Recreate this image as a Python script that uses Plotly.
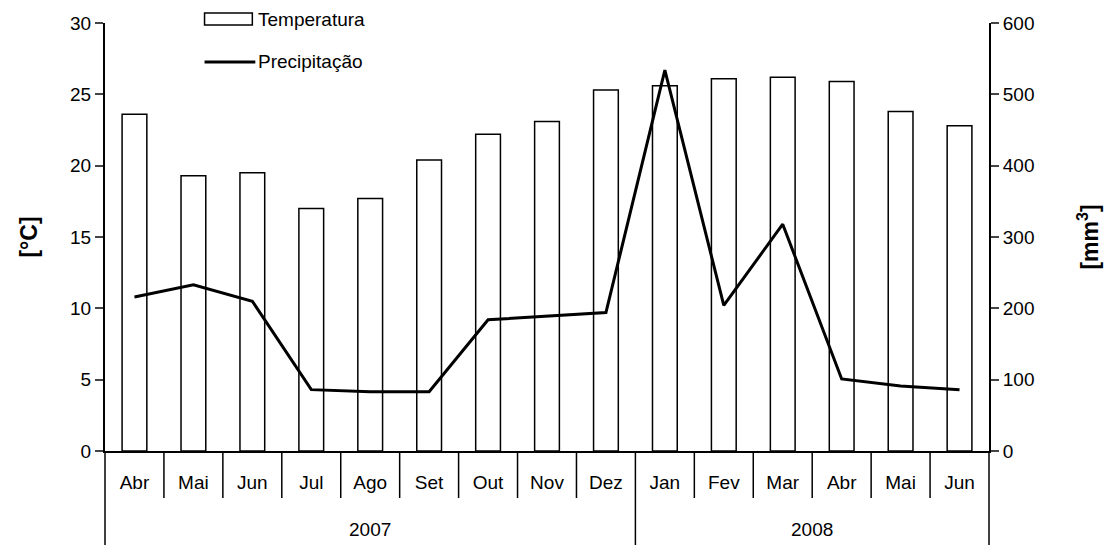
import plotly.graph_objects as go

# data
years = ["2007"] * 9 + ["2008"] * 6
months = ["Abr", "Mai", "Jun", "Jul", "Ago", "Set", "Out", "Nov", "Dez",
          "Jan", "Fev", "Mar", "Abr", "Mai", "Jun"]
temperatura = [23.6, 19.3, 19.5, 17.0, 17.7, 20.4, 22.2, 23.1, 25.3,
               25.6, 26.1, 26.2, 25.9, 23.8, 22.8]
precipitacao = [216, 233, 210, 86, 83, 83, 184, 189, 194,
                534, 204, 318, 101, 91, 86]

# unique category keys, shown as month names
cats = [f"{m} {y}" for m, y in zip(months, years)]

W, H = 1111, 545
M = dict(l=105, r=118, t=23, b=94)
plot_h = H - M["t"] - M["b"]
plot_w = W - M["l"] - M["r"]
font = dict(family="Liberation Sans, Arial, sans-serif", size=19, color="black")

fig = go.Figure()
fig.add_trace(go.Bar(
    x=cats, y=temperatura, name="Temperatura",
    marker=dict(color="white", line=dict(color="black", width=1.5)),
    showlegend=False,
))
fig.add_trace(go.Scatter(
    x=cats, y=precipitacao, name="Precipitação", yaxis="y2",
    mode="lines", line=dict(color="black", width=3),
    showlegend=False,
))

px_x = lambda p: (p - M["l"]) / plot_w
px_y = lambda p: (H - M["b"] - p) / plot_h

# category cell dividers under the axis
n = len(months)
shapes = []
annotations = []
for i in range(n + 1):
    year_edge = i in (0, n) or years[i] != years[i - 1]
    shapes.append(dict(type="line", xref="paper", yref="paper",
                       x0=i / n, x1=i / n, y0=0,
                       y1=px_y(H) if year_edge else px_y(H - M["b"] + 47),
                       line=dict(color="black", width=1.5)))

# year labels centred under their months
for y in sorted(set(years)):
    idx = [i for i, v in enumerate(years) if v == y]
    xc = (idx[0] + idx[-1] + 1) / 2 / n
    annotations.append(dict(text=y, xref="paper", yref="paper", x=xc, y=px_y(529),
                            xanchor="center", yanchor="middle", showarrow=False, font=font))

# legend drawn by hand (wide box symbol like the original)
shapes.append(dict(type="rect", xref="paper", yref="paper",
                   x0=px_x(205), x1=px_x(253), y0=px_y(25), y1=px_y(13),
                   line=dict(color="black", width=1.5), fillcolor="white"))
shapes.append(dict(type="line", xref="paper", yref="paper",
                   x0=px_x(205), x1=px_x(256), y0=px_y(62), y1=px_y(62),
                   line=dict(color="black", width=3)))
annotations += [
    dict(text="Temperatura", xref="paper", yref="paper", x=px_x(257), y=px_y(19),
         xanchor="left", yanchor="middle", showarrow=False, font=font),
    dict(text="Precipitação", xref="paper", yref="paper", x=px_x(257), y=px_y(62),
         xanchor="left", yanchor="middle", showarrow=False, font=font),
]

fig.update_layout(
    width=W, height=H, margin=M,
    paper_bgcolor="white", plot_bgcolor="white",
    font=font, bargap=0.58,
    shapes=shapes, annotations=annotations,
    xaxis=dict(type="category", tickvals=cats, ticktext=months,
               showline=True, linecolor="black", linewidth=2,
               ticks="outside", ticklen=13, tickcolor="rgba(0,0,0,0)",
               showgrid=False, tickfont=font),
    yaxis=dict(range=[0, 30], dtick=5, ticks="outside", ticklen=8, tickwidth=1.5,
               showline=True, linecolor="black", linewidth=2, showgrid=False,
               zeroline=False, title=dict(text="<b>[°C]</b>", standoff=26)),
    yaxis2=dict(range=[0, 600], dtick=100, overlaying="y", side="right",
                ticks="outside", ticklen=8, tickwidth=1.5,
                showline=True, linecolor="black", linewidth=2, showgrid=False,
                zeroline=False, title=dict(text="<b>[mm<sup>3</sup>]</b>", standoff=48)),
)

# drop the page's default body margin so the figure sits at the window corner
fig.write_html("out.html", config={"displayModeBar": False},
               post_script="document.body.style.margin='0';")
